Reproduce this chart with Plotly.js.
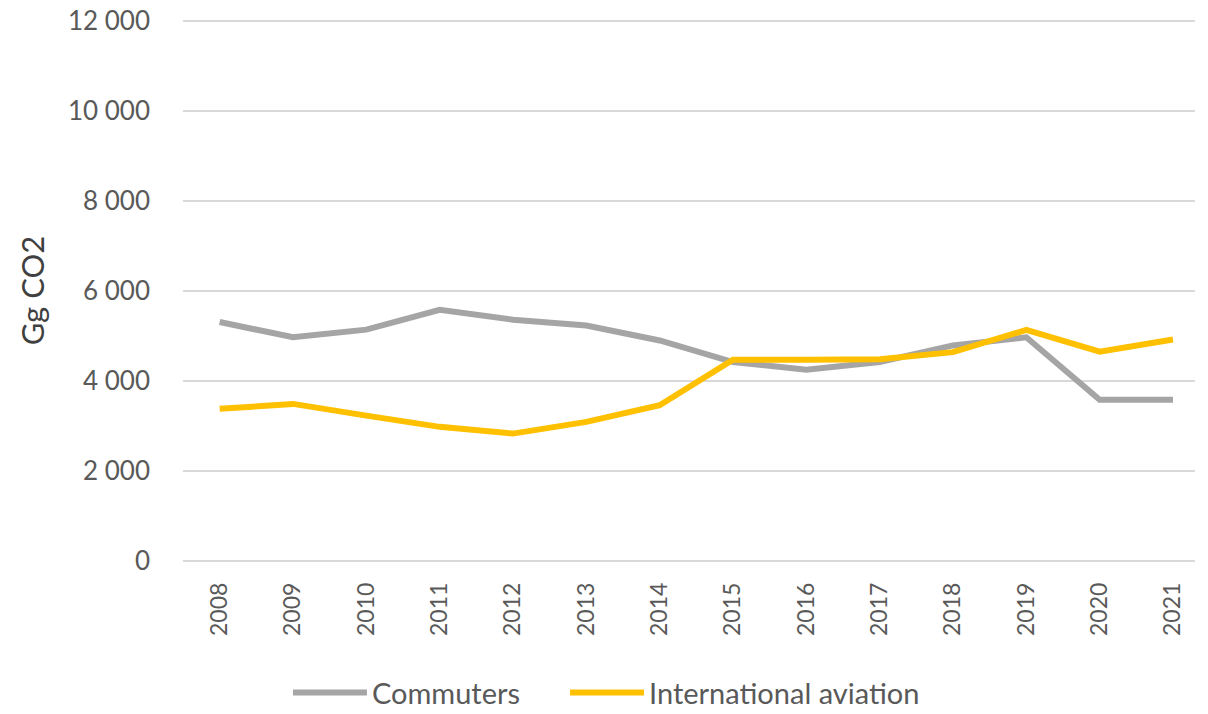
<!DOCTYPE html>
<html>
<head>
<meta charset="utf-8">
<script src="https://cdn.plot.ly/plotly-3.0.1.min.js"></script>
<style>html,body{margin:0;padding:0;background:#fff;}#chart{width:1208px;height:714px;}</style>
</head>
<body>
<div id="chart"></div>
<script>
const years = ["2008","2009","2010","2011","2012","2013","2014","2015","2016","2017","2018","2019","2020","2021"];
const commuters = [5300, 4960, 5130, 5570, 5350, 5220, 4890, 4410, 4240, 4410, 4780, 4960, 3570, 3570];
const aviation = [3370, 3480, 3220, 2970, 2820, 3080, 3450, 4460, 4460, 4470, 4630, 5125, 4640, 4910];
const yTicks = [0, 2000, 4000, 6000, 8000, 10000, 12000];

const font = "Lato, 'Open Sans', sans-serif";
const traces = [
  {x: years, y: commuters, name: "Commuters", type: "scatter", mode: "lines",
   legend: "legend", line: {color: "#A5A5A5", width: 6}},
  {x: years, y: aviation, name: "International aviation", type: "scatter", mode: "lines",
   legend: "legend2", line: {color: "#FFC000", width: 6}}
];
const legendBase = {orientation: "h", xref: "paper", xanchor: "left",
  yref: "container", y: 0.03, yanchor: "middle",
  font: {size: 29, color: "#595959"}, itemwidth: 74, bgcolor: "rgba(0,0,0,0)"};
const layout = {
  width: 1208, height: 714,
  margin: {l: 183, r: 13, t: 16, b: 149},
  paper_bgcolor: "#fff", plot_bgcolor: "#fff",
  separators: ", ",
  font: {family: font, color: "#595959", size: 22},
  showlegend: true,
  legend: Object.assign({}, legendBase, {x: 0.1037}),
  legend2: Object.assign({}, legendBase, {x: 0.3775}),
  xaxis: {type: "category", range: [-0.5, 13.3], tickangle: -90, showgrid: false,
          showline: false, zeroline: false, ticks: "", ticklabelstandoff: 12,
          automargin: false, tickfont: {size: 23, color: "#595959"}},
  yaxis: {range: [-100, 12100], tickvals: yTicks, tickformat: ",d", showgrid: true,
          gridcolor: "#D9D9D9", gridwidth: 2, zeroline: false, showline: false,
          automargin: false, ticks: "", ticklabelstandoff: 32,
          tickfont: {size: 26, color: "#595959"},
          title: {text: "Gg CO2", font: {size: 31, color: "#404040"}, standoff: 14}}
};
Plotly.newPlot("chart", traces, layout, {displayModeBar: false, staticPlot: true});
</script>
</body>
</html>
